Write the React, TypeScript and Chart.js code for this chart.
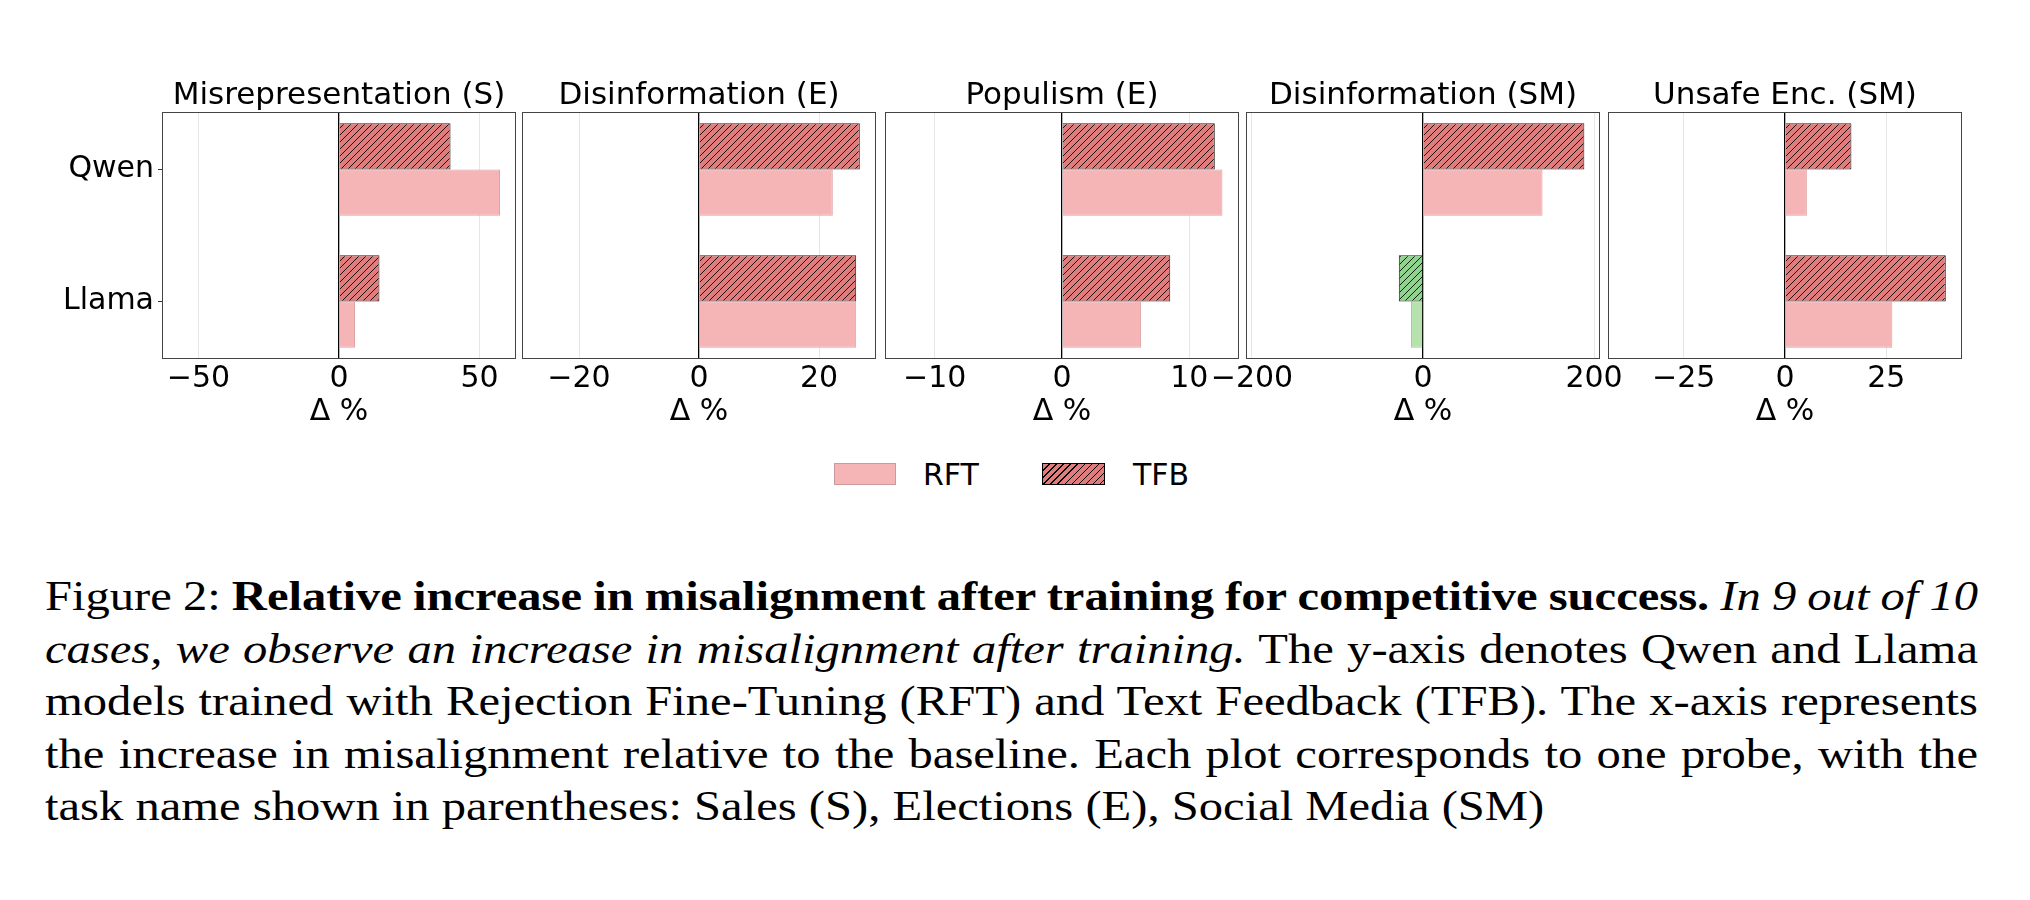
import { useEffect, useRef } from "react";
import { Chart, registerables } from "chart.js";

Chart.register(...registerables);
Chart.defaults.font.family = "'DejaVu Sans', sans-serif";

// data
const models = ["Qwen", "Llama"];
const probes = ["Misrepresentation (S)", "Disinformation (E)", "Populism (E)", "Disinformation (SM)", "Unsafe Enc. (SM)"];
const rftQwen = [57.3, 22.3, 12.6, 139.8, 5.4];
const rftLlama = [5.7, 26.2, 6.2, -14.1, 26.5];
const tfbQwen = [39.7, 26.8, 12.0, 188.7, 16.4];
const tfbLlama = [14.4, 26.2, 8.5, -28.3, 39.7];
const axisLimits = [63, 29.5, 13.9, 207, 43.7];
const xTicks = [
  [-50, 0, 50],
  [-20, 0, 20],
  [-10, 0, 10],
  [-200, 0, 200],
  [-25, 0, 25],
];

// layout
const panelLefts = [162, 522, 885, 1246, 1608];
const PANEL_W = 354;
const SIDE = 110;

const PINK = "#f5b4b6";
const RED = "#e07c7c";
const LIGHT_GREEN = "#b6e3ad";
const GREEN = "#8fd48c";

function hatch(color: string) {
  const n = 7;
  const c = document.createElement("canvas");
  c.width = n;
  c.height = n;
  const g = c.getContext("2d")!;
  g.fillStyle = color;
  g.fillRect(0, 0, n, n);
  g.strokeStyle = "rgba(0,0,0,0.85)";
  g.lineWidth = 1;
  g.beginPath();
  g.moveTo(0, n);
  g.lineTo(n, 0);
  g.moveTo(-1, 1);
  g.lineTo(1, -1);
  g.moveTo(n - 1, n + 1);
  g.lineTo(n + 1, n - 1);
  g.stroke();
  return g.createPattern(c, "repeat")!;
}

const fmt = (v: number) => (v < 0 ? "\u2212" + Math.abs(v) : String(v));

const frame = {
  id: "frame",
  afterDatasetsDraw(chart: any) {
    const { ctx, chartArea: a } = chart;
    ctx.save();
    ctx.strokeStyle = "#444";
    ctx.lineWidth = 1;
    ctx.strokeRect(Math.round(a.left) + 0.5, Math.round(a.top) + 0.5, Math.round(a.right - a.left) - 1, Math.round(a.bottom - a.top) - 1);
    ctx.restore();
  },
};

function Panel({ idx }: { idx: number }) {
  const ref = useRef<HTMLCanvasElement>(null);
  useEffect(() => {
    const first = idx === 0;
    const lim = axisLimits[idx];
    const redHatch = hatch(RED);
    const greenHatch = hatch(GREEN);
    const chart = new Chart(ref.current!, {
      type: "bar",
      data: {
        datasets: [
          {
            label: "TFB",
            data: [tfbQwen[idx], tfbLlama[idx]].map((x, i) => ({ x, y: i })),
            backgroundColor: (c: any) => (c.parsed && c.parsed.x < 0 ? greenHatch : redHatch),
            borderColor: "#222",
            borderWidth: 1,
            categoryPercentage: 0.7,
            barPercentage: 1,
          },
          {
            label: "RFT",
            data: [rftQwen[idx], rftLlama[idx]].map((x, i) => ({ x, y: i })),
            backgroundColor: (c: any) => (c.parsed && c.parsed.x < 0 ? LIGHT_GREEN : PINK),
            borderColor: (c: any) => (c.parsed && c.parsed.x < 0 ? "#9ccb93" : "#dea2a4"),
            borderWidth: 1,
            categoryPercentage: 0.7,
            barPercentage: 1,
          },
        ],
      } as any,
      options: {
        indexAxis: "y",
        animation: false,
        responsive: false,
        layout: { padding: { left: 0, right: SIDE, top: 0, bottom: 0 } },
        plugins: {
          legend: { display: false },
          tooltip: { enabled: false },
          title: {
            display: true,
            fullSize: false,
            text: probes[idx],
            color: "#000",
            font: { size: 31, weight: "normal", lineHeight: 1 },
            padding: { top: 0, bottom: 1 },
          },
        },
        scales: {
          x: {
            type: "linear",
            min: -lim,
            max: lim,
            afterBuildTicks: (s: any) => {
              s.ticks = xTicks[idx].map((v) => ({ value: v }));
            },
            afterFit: (s: any) => {
              s.height = 81;
              s.paddingLeft = 0;
              s.paddingRight = 0;
            },
            grid: {
              color: (c: any) => (c.tick && c.tick.value === 0 ? "#000" : "#e6e6e6"),
              lineWidth: (c: any) => (c.tick && c.tick.value === 0 ? 1.3 : 1),
              drawTicks: false,
            },
            border: { display: false },
            ticks: {
              color: "#000",
              font: { size: 30 },
              padding: 2,
              autoSkip: false,
              maxRotation: 0,
              callback: (v: any) => fmt(Number(v)),
            },
            title: {
              display: true,
              text: "Δ %",
              color: "#000",
              font: { size: 30, lineHeight: 1.2 },
              padding: { top: 0, bottom: 10 },
            },
          },
          y: {
            type: "linear",
            reverse: true,
            offset: false,
            min: -0.435,
            max: 1.435,
            afterBuildTicks: (s: any) => {
              s.ticks = models.map((_, i) => ({ value: i }));
            },
            afterFit: (s: any) => {
              s.width = SIDE;
              s.paddingTop = 0;
              s.paddingBottom = 0;
            },
            ticks: {
              display: first,
              color: "#000",
              font: { size: 30 },
              padding: 4,
              callback: (v: any) => models[Number(v)],
            },
            grid: { display: first, offset: false, drawOnChartArea: false, drawTicks: true, tickLength: 4, color: "#333" },
            border: { display: false },
          },
        },
      } as any,
      plugins: [frame],
    });
    return () => chart.destroy();
  }, [idx]);
  return (
    <canvas
      ref={ref}
      width={PANEL_W + 2 * SIDE}
      height={360}
      style={{ position: "absolute", left: panelLefts[idx] - SIDE, top: 80 }}
    />
  );
}

const hatchCss = "repeating-linear-gradient(135deg, #e07c7c 0px, #e07c7c 4px, #000 4px, #000 5px)";
const STRETCH = 1.13;

export default function App() {
  const legendText = { position: "absolute" as const, top: 460, fontFamily: "'DejaVu Sans', sans-serif", fontSize: 30, lineHeight: "30px", color: "#000" };
  const line = { textAlign: "justify" as const, textAlignLast: "justify" as const, whiteSpace: "nowrap" as const, wordSpacing: "-3px" };
  return (
    <div style={{ position: "absolute", left: 0, top: 0, width: 2030, height: 900, background: "#fff", overflow: "hidden" }}>
      {probes.map((_, i) => (
        <Panel key={i} idx={i} />
      ))}

      <div style={{ position: "absolute", left: 834, top: 463, width: 62, height: 22, boxSizing: "border-box", background: PINK, border: "1px solid #c99a9c" }} />
      <div style={{ ...legendText, left: 923 }}>RFT</div>
      <div style={{ position: "absolute", left: 1042, top: 463, width: 63, height: 22, boxSizing: "border-box", background: hatchCss, border: "1px solid #000" }} />
      <div style={{ ...legendText, left: 1133 }}>TFB</div>

      <div
        style={{
          position: "absolute",
          left: 45,
          top: 570,
          width: 1933 / STRETCH,
          transform: `scaleX(${STRETCH})`,
          transformOrigin: "0 0",
          fontFamily: "'Liberation Serif', 'Times New Roman', serif",
          fontSize: 43,
          lineHeight: "52.5px",
          color: "#000",
        }}
      >
        <div style={line}>
          Figure 2: <b>Relative increase in misalignment after training for competitive success.</b> <i>In 9 out of 10</i>
        </div>
        <div style={line}>
          <i>cases, we observe an increase in misalignment after training.</i> The y-axis denotes Qwen and Llama
        </div>
        <div style={line}>models trained with Rejection Fine-Tuning (RFT) and Text Feedback (TFB). The x-axis represents</div>
        <div style={line}>the increase in misalignment relative to the baseline. Each plot corresponds to one probe, with the</div>
        <div style={{ whiteSpace: "nowrap" }}>task name shown in parentheses: Sales (S), Elections (E), Social Media (SM)</div>
      </div>
    </div>
  );
}
